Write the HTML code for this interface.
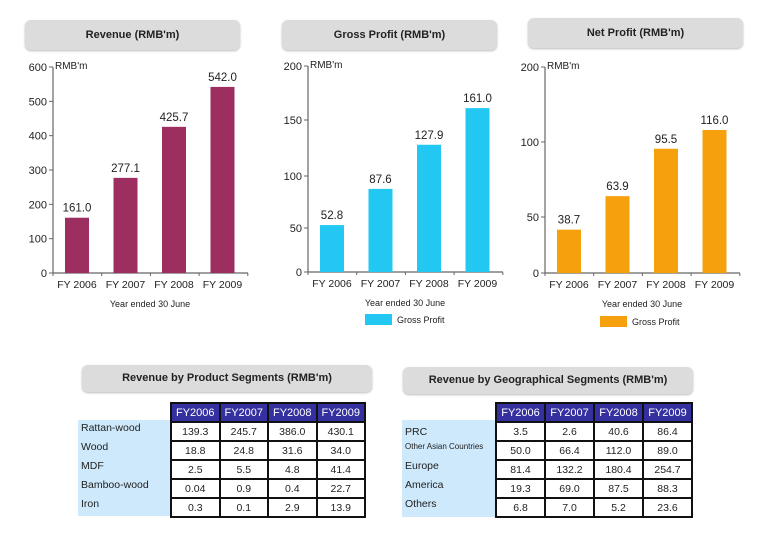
<!DOCTYPE html>
<html><head><meta charset="utf-8"><style>
body{margin:0;background:#fff;width:770px;height:539px;overflow:hidden;font-family:"Liberation Sans",sans-serif;position:relative}
.tb{position:absolute;background:#dcdcdc;border-radius:6px;font-weight:bold;font-size:11px;text-align:center;color:#222;box-shadow:0 1px 2px #bbb}
table{position:absolute;border-collapse:collapse;font-size:10.5px}
tr{height:19px}
td{border:2px solid #111;text-align:center;padding:0;background:#fff;color:#222}
th{background:#3530a0;color:#fff;font-weight:normal;border:2px solid #111;padding:0;font-size:11px}
.lab{position:absolute;background:#cde9fb;font-size:10.5px;color:#222}
.lab div{height:19px;line-height:16px;padding-left:3px}
</style></head><body>
<div class="tb" style="left:25px;top:20px;width:215px;height:30px;line-height:30px">Revenue (RMB'm)</div>
<div class="tb" style="left:282px;top:20px;width:215px;height:30px;line-height:30px">Gross Profit (RMB'm)</div>
<div class="tb" style="left:528px;top:18px;width:215px;height:30px;line-height:30px">Net Profit (RMB'm)</div>
<svg id="charts" width="770" height="340" style="position:absolute;left:0;top:0" font-family="Liberation Sans, sans-serif"></svg>

<div class="tb" style="left:82px;top:365px;width:290px;height:27px;line-height:27px">Revenue by Product Segments (RMB'm)</div>
<div class="lab" style="left:78px;top:420px;width:92px;height:96px">
<div>Rattan-wood</div><div>Wood</div><div>MDF</div><div>Bamboo-wood</div><div>Iron</div></div>
<table style="left:170px;top:402px;width:196px">
<tr><th>FY2006</th><th>FY2007</th><th>FY2008</th><th>FY2009</th></tr>
<tr><td>139.3</td><td>245.7</td><td>386.0</td><td>430.1</td></tr>
<tr><td>18.8</td><td>24.8</td><td>31.6</td><td>34.0</td></tr>
<tr><td>2.5</td><td>5.5</td><td>4.8</td><td>41.4</td></tr>
<tr><td>0.04</td><td>0.9</td><td>0.4</td><td>22.7</td></tr>
<tr><td>0.3</td><td>0.1</td><td>2.9</td><td>13.9</td></tr>
</table>

<div class="tb" style="left:403px;top:367px;width:290px;height:27px;line-height:27px">Revenue by Geographical Segments (RMB'm)</div>
<div class="lab" style="left:402px;top:420px;width:93px;height:97px">
<div style="padding-top:4px;height:15px">PRC</div><div style="font-size:8px">Other Asian Countries</div><div>Europe</div><div>America</div><div>Others</div></div>
<table style="left:495px;top:402px;width:198px">
<tr><th>FY2006</th><th>FY2007</th><th>FY2008</th><th>FY2009</th></tr>
<tr><td>3.5</td><td>2.6</td><td>40.6</td><td>86.4</td></tr>
<tr><td>50.0</td><td>66.4</td><td>112.0</td><td>89.0</td></tr>
<tr><td>81.4</td><td>132.2</td><td>180.4</td><td>254.7</td></tr>
<tr><td>19.3</td><td>69.0</td><td>87.5</td><td>88.3</td></tr>
<tr><td>6.8</td><td>7.0</td><td>5.2</td><td>23.6</td></tr>
</table>

<script>
const categories=["FY 2006","FY 2007","FY 2008","FY 2009"];
const revenueValues=[161.0,277.1,425.7,542.0];
const grossValues=[52.8,87.6,127.9,161.0];
const netValues=[38.7,63.9,95.5,116.0];
const revenueTicks=[0,100,200,300,400,500,600];
const grossTicks=[0,50,100,150,200];
const netTicks=[0,50,100,200];
const NS="http://www.w3.org/2000/svg";
const svg=document.getElementById('charts');
function mk(t,a,txt){const e=document.createElementNS(NS,t);for(const k in a)e.setAttribute(k,a[k]);if(txt!=null)e.textContent=txt;svg.appendChild(e);return e;}
function scale(dom,px){return v=>{for(let i=1;i<dom.length;i++){if(v<=dom[i]||i==dom.length-1){const t=(v-dom[i-1])/(dom[i]-dom[i-1]);return px[i-1]+t*(px[i]-px[i-1]);}}};}
function chart(o){
  const y=o.y, x0=o.x0, step=48.5, bw=24;
  const xb=i=>x0+12+i*step;
  let l=mk('line',{x1:x0,y1:y(o.ticks[o.ticks.length-1]),x2:x0,y2:y(0),stroke:'#666','stroke-width':1.2});
  
  l=mk('line',{x1:x0,y1:y(0),x2:x0+195,y2:y(0),stroke:'#666','stroke-width':1.2});
  
  o.ticks.forEach(t=>{
    mk('line',{x1:x0-4,y1:y(t),x2:x0,y2:y(t),stroke:'#666'});
    const e=mk('text',{x:x0-6,y:y(t)+4,'text-anchor':'end','font-size':11,fill:'#222'},t);
    
  });
  const u=mk('text',{x:x0+2,y:y(o.ticks[o.ticks.length-1])+2,'font-size':10,fill:'#222'},"RMB'm");
  
  for(let i=0;i<=4;i++)mk('line',{x1:x0+i*48.7,y1:y(0),x2:x0+i*48.7,y2:y(0)+3,stroke:'#666'});
  o.vals.forEach((v,i)=>{
    const b=mk('rect',{x:xb(i),y:y(v),width:bw,height:y(0)-y(v),fill:o.color});
    
    const t=mk('text',{x:xb(i)+bw/2,y:y(v)-6,'text-anchor':'middle','font-size':11.5,fill:'#222'},v.toFixed(1));
    
    const c=mk('text',{x:xb(i)+bw/2,y:y(0)+15,'text-anchor':'middle','font-size':10.5,fill:'#222'},categories[i]);
    
  });
  const xt=mk('text',{x:x0+97,y:y(0)+34,'text-anchor':'middle','font-size':9,fill:'#222'},'Year ended 30 June');
  
  if(o.legend){
    const s=mk('rect',{x:o.legend[0],y:o.legend[1],width:27,height:11,fill:o.color});
    
    const lt=mk('text',{x:o.legend[0]+32,y:o.legend[1]+9,'font-size':9,fill:'#222'},'Gross Profit');
    
  }
}
chart({name:'revenue',x0:53,vals:revenueValues,ticks:revenueTicks,color:'#9c2e60',y:scale([0,600],[273,67])});
chart({name:'gross-profit',x0:308,vals:grossValues,ticks:grossTicks,color:'#22c8f2',y:scale([0,50,100,150,200],[272,228,176,120,66]),legend:[365,314]});
chart({name:'net-profit',x0:545,vals:netValues,ticks:netTicks,color:'#f7a00d',y:scale([0,50,100,200],[273,217,142,67]),legend:[600,316]});
</script>
</body></html>
